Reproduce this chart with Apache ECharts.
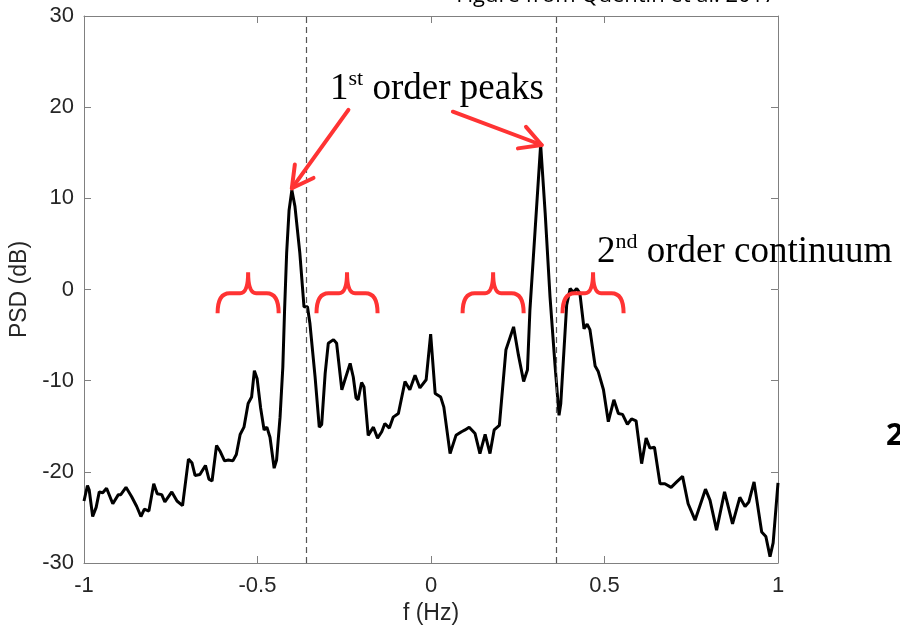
<!DOCTYPE html>
<html>
<head>
<meta charset="utf-8">
<title>PSD</title>
<script src="https://cdn.jsdelivr.net/npm/echarts@6/dist/echarts.min.js"></script>
<style>
  html, body { margin: 0; padding: 0; background: #fff; }
  #chart { width: 900px; height: 636px; }
</style>
</head>
<body>
<div id="chart"></div>
<script>
// spectrum: frequency (Hz) and PSD (dB)
const freq = [
  -1.000, -0.990, -0.985, -0.975, -0.965, -0.956, -0.946, -0.935, -0.917, -0.901,
  -0.894, -0.879, -0.863, -0.848, -0.836, -0.826, -0.813, -0.799, -0.789, -0.776,
  -0.767, -0.747, -0.732, -0.716, -0.699, -0.689, -0.680, -0.666, -0.650, -0.640,
  -0.631, -0.618, -0.607, -0.595, -0.584, -0.571, -0.561, -0.550, -0.539, -0.527,
  -0.517, -0.509, -0.501, -0.491, -0.481, -0.473, -0.464, -0.452, -0.445, -0.435,
  -0.427, -0.422, -0.416, -0.409, -0.401, -0.392, -0.378, -0.366, -0.356, -0.349,
  -0.334, -0.322, -0.315, -0.305, -0.296, -0.281, -0.272, -0.257, -0.248, -0.233,
  -0.224, -0.216, -0.210, -0.200, -0.193, -0.181, -0.166, -0.154, -0.142, -0.133,
  -0.120, -0.109, -0.094, -0.075, -0.061, -0.046, -0.032, -0.014, -0.001, 0.012,
  0.028, 0.037, 0.055, 0.072, 0.088, 0.098, 0.110, 0.127, 0.141, 0.156,
  0.170, 0.182, 0.197, 0.216, 0.238, 0.252, 0.267, 0.278, 0.285, 0.300,
  0.316, 0.329, 0.343, 0.357, 0.369, 0.374, 0.391, 0.401, 0.410, 0.420,
  0.429, 0.441, 0.450, 0.458, 0.473, 0.482, 0.497, 0.511, 0.527, 0.540,
  0.552, 0.566, 0.578, 0.591, 0.607, 0.620, 0.631, 0.644, 0.660, 0.674,
  0.692, 0.708, 0.725, 0.741, 0.761, 0.791, 0.804, 0.823, 0.846, 0.869,
  0.890, 0.905, 0.916, 0.931, 0.953, 0.965, 0.977, 0.986, 1.000
];
const psd = [
  -23.2, -21.5, -22.0, -24.9, -23.9, -22.2, -22.3, -21.8, -23.5, -22.5,
  -22.5, -21.7, -22.7, -23.8, -24.9, -24.1, -24.3, -21.3, -22.4, -22.5,
  -23.3, -22.2, -23.2, -23.7, -18.6, -19.0, -20.4, -20.3, -19.3, -20.8,
  -21.0, -17.1, -17.8, -18.8, -18.7, -18.8, -18.1, -15.9, -15.1, -12.5,
  -11.8, -8.9, -9.8, -13.0, -15.4, -15.1, -16.2, -19.6, -18.7, -14.0,
  -8.5, -2.3, 4.0, 8.7, 10.9, 9.1, 4.0, -1.9, -1.9, -3.7,
  -9.6, -15.1, -14.8, -9.2, -5.9, -5.5, -5.9, -11.0, -9.9, -8.1,
  -9.6, -11.9, -12.1, -10.2, -10.7, -16.0, -15.1, -16.3, -15.6, -14.7,
  -15.2, -14.0, -13.6, -10.1, -11.0, -9.4, -10.8, -9.9, -4.9, -11.4,
  -11.8, -12.9, -18.0, -16.0, -15.6, -15.4, -15.1, -15.8, -18.0, -15.9,
  -18.0, -15.4, -14.9, -6.6, -4.1, -7.2, -10.1, -8.8, -2.3, 6.5,
  15.9, 8.4, -0.8, -8.1, -13.8, -12.5, -1.7, 0.1, -0.3, 0.1,
  -0.4, -4.3, -3.8, -4.4, -8.4, -9.0, -11.0, -14.5, -12.1, -13.6,
  -13.7, -14.8, -14.2, -14.4, -19.1, -16.3, -17.4, -17.3, -21.3, -21.3,
  -21.7, -21.1, -20.5, -23.5, -25.3, -21.9, -23.1, -26.4, -22.2, -25.7,
  -22.8, -23.8, -23.3, -21.1, -26.6, -27.1, -29.3, -27.8, -21.2
];

// dashed vertical lines (Bragg frequencies)
const braggFreq = [-0.36, 0.36];

// red annotations, in data units
const arrowFrom = [[-0.238, 19.7], [0.063, 19.5]];
const arrowTo = [[-0.401, 11.1], [0.319, 15.85]];
const braceCenters = [-0.527, -0.242, 0.179, 0.467];
const braceHalf = 0.088;
const braceBar = -0.4;
const braceTip = 1.9;
const braceEnd = -2.6;

const RED = '#ff3333';
const AXIS = '#808080';
const TXT = '#262626';
const SANS = '"Liberation Sans", Arial, Helvetica, sans-serif';
const SERIF = '"Liberation Serif", "Times New Roman", serif';

const chart = echarts.init(document.getElementById('chart'));

function renderArrow(params, api) {
  const p0 = api.coord([api.value(0), api.value(1)]);
  const p1 = api.coord([api.value(2), api.value(3)]);
  const ang = Math.atan2(p1[1] - p0[1], p1[0] - p0[0]);
  const len = 24, spread = 0.5;
  const a1 = [p1[0] - len * Math.cos(ang - spread), p1[1] - len * Math.sin(ang - spread)];
  const a2 = [p1[0] - len * Math.cos(ang + spread), p1[1] - len * Math.sin(ang + spread)];
  const st = { stroke: RED, lineWidth: 4, fill: 'none', lineCap: 'round', lineJoin: 'round' };
  return {
    type: 'group',
    children: [
      { type: 'line', shape: { x1: p0[0], y1: p0[1], x2: p1[0], y2: p1[1] }, style: st },
      { type: 'polyline', shape: { points: [a1, p1, a2] }, style: st }
    ]
  };
}

function renderBrace(params, api) {
  const c = api.value(0);
  const l = api.coord([c - braceHalf, braceBar]);
  const m = api.coord([c, braceBar]);
  const r = api.coord([c + braceHalf, braceBar]);
  const tip = api.coord([c, braceTip])[1];
  const end = api.coord([c, braceEnd])[1];
  const y = m[1];
  const d = 'M' + l[0] + ',' + end + ' Q' + l[0] + ',' + y + ' ' + (l[0] + 12) + ',' + y +
    ' L' + (m[0] - 8) + ',' + y + ' Q' + m[0] + ',' + y + ' ' + m[0] + ',' + tip +
    ' Q' + m[0] + ',' + y + ' ' + (m[0] + 8) + ',' + y +
    ' L' + (r[0] - 12) + ',' + y + ' Q' + r[0] + ',' + y + ' ' + r[0] + ',' + end;
  return { type: 'path', shape: { pathData: d }, style: { stroke: RED, lineWidth: 4, fill: 'none' } };
}

function valueAxis(pos, extra) {
  return Object.assign({
    type: 'value',
    position: pos,
    axisLine: { show: true, onZero: false, lineStyle: { color: AXIS, width: 1 } },
    axisTick: { show: true, inside: true, length: 7, lineStyle: { color: AXIS } },
    axisLabel: { show: false },
    splitLine: { show: false }
  }, extra);
}

const xRange = { min: -1, max: 1, interval: 0.5 };
const yRange = { min: -30, max: 30, interval: 10 };

const supText = {
  n: { fontSize: 37, lineHeight: 42, fontFamily: SERIF, color: '#000' },
  s: { fontSize: 22, lineHeight: 26, fontFamily: SERIF, color: '#000', verticalAlign: 'top' }
};

chart.setOption({
  animation: false,
  backgroundColor: '#fff',
  grid: { left: 84, right: 122, top: 16, bottom: 73 },
  xAxis: [
    valueAxis('bottom', Object.assign({
      name: 'f (Hz)', nameLocation: 'middle', nameGap: 36,
      nameTextStyle: { fontSize: 23, color: TXT, fontFamily: SANS },
      axisLabel: { show: true, fontSize: 22, color: TXT, fontFamily: SANS, margin: 12 }
    }, xRange)),
    valueAxis('top', Object.assign({}, xRange))
  ],
  yAxis: [
    valueAxis('left', Object.assign({
      name: 'PSD (dB)', nameLocation: 'middle', nameGap: 50,
      nameTextStyle: { fontSize: 23, color: TXT, fontFamily: SANS },
      axisLabel: { show: true, fontSize: 22, color: TXT, fontFamily: SANS, margin: 10 }
    }, yRange)),
    valueAxis('right', Object.assign({}, yRange))
  ],
  series: [
    {
      type: 'line',
      data: freq.map((f, i) => [f, psd[i]]),
      showSymbol: false,
      lineStyle: { color: '#000', width: 3 },
      itemStyle: { color: '#000' },
      z: 3,
      markLine: {
        silent: true,
        symbol: ['none', 'none'],
        label: { show: false },
        lineStyle: { color: '#555', width: 1.2, type: [6, 4] },
        data: braggFreq.map(v => ({ xAxis: v }))
      }
    },
    {
      type: 'custom',
      silent: true,
      z: 5,
      renderItem: renderBrace,
      encode: { x: 0, y: 1 },
      data: braceCenters.map(c => [c, braceBar])
    },
    {
      type: 'custom',
      silent: true,
      z: 5,
      renderItem: renderArrow,
      encode: { x: [0, 2], y: [1, 3] },
      data: arrowFrom.map((p, i) => [p[0], p[1], arrowTo[i][0], arrowTo[i][1]])
    }
  ],
  graphic: [
    {
      type: 'text', x: 330, y: 68, z: 10,
      style: { text: '{n|1}{s|st}{n| order peaks}', rich: supText }
    },
    {
      type: 'text', x: 597, y: 231, z: 10,
      style: { text: '{n|2}{s|nd}{n| order continuum}', rich: supText }
    },
    {
      type: 'text', x: 616, y: -4.5, z: 10,
      style: {
        text: 'Figure from Quentin et al. 2017',
        font: '22px "Open Sans", sans-serif', fill: '#000',
        align: 'center', verticalAlign: 'middle'
      }
    },
    {
      type: 'text', x: 886, y: 436, z: 10,
      style: {
        text: '2',
        font: 'bold 30px "Open Sans", sans-serif', fill: '#000',
        align: 'left', verticalAlign: 'middle'
      }
    }
  ]
});
</script>
</body>
</html>
